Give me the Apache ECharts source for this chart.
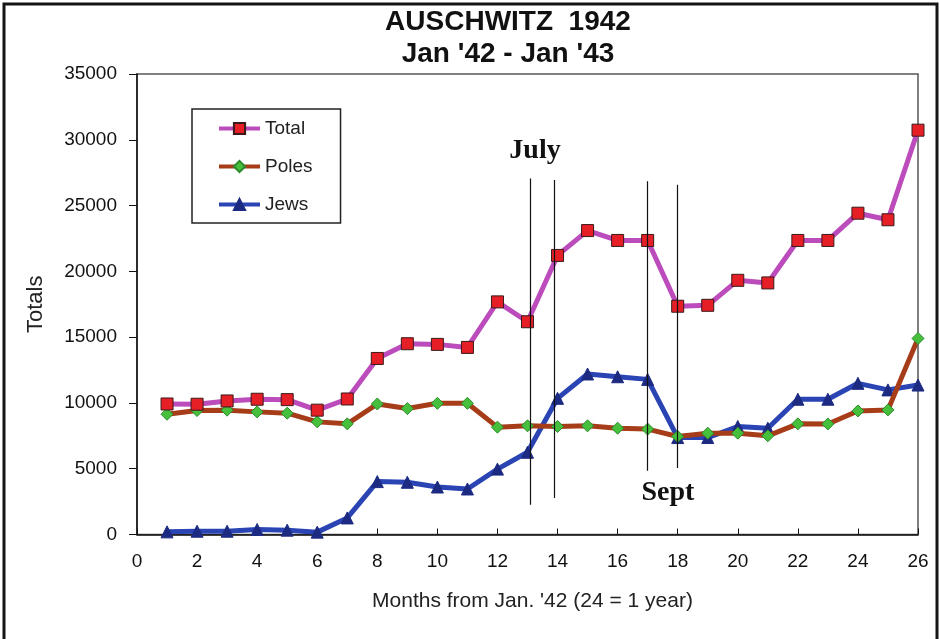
<!DOCTYPE html>
<html>
<head>
<meta charset="utf-8">
<title>Auschwitz 1942</title>
<script src="https://cdn.jsdelivr.net/npm/echarts@6/dist/echarts.min.js"></script>
<style>
  html, body { margin: 0; padding: 0; background: #fff; }
  #main { width: 940px; height: 639px; }
</style>
</head>
<body>
<div id="main"></div>
<script>
// months from Jan '42
var months = [1, 2, 3, 4, 5, 6, 7, 8, 9, 10, 11, 12, 13, 14, 15, 16, 17, 18, 19, 20, 21, 22, 23, 24, 25, 26];
var total = [9920, 9900, 10150, 10280, 10250, 9450, 10300, 13380, 14500, 14450, 14220, 17680, 16170,
  21210, 23100, 22350, 22350, 17350, 17420, 19320, 19120, 22350, 22350, 24420, 23920, 30730];
var poles = [9140, 9420, 9450, 9320, 9220, 8560, 8410, 9920, 9570, 9970, 9970, 8160, 8260,
  8210, 8260, 8080, 8010, 7450, 7700, 7700, 7500, 8410, 8400, 9390, 9470, 14900];
var jews = [200, 250, 250, 380, 330, 180, 1260, 4020, 3970, 3610, 3460, 4970, 6250,
  10350, 12200, 11990, 11790, 7370, 7370, 8210, 8080, 10280, 10280, 11490, 10990, 11360];

// the thin marker lines around July and Sept
var markX = [13.1, 13.9, 17, 18];
var markLow = [2270, 2780, 4850, 5050];
var markHigh = [27050, 26950, 26840, 26590];

function pairs(ys) {
  return months.map(function (m, i) { return [m, ys[i]]; });
}

var markLines = markX.map(function (x, i) {
  return [{ coord: [x, markLow[i]] }, { coord: [x, markHigh[i]] }];
});

var myChart = echarts.init(document.getElementById('main'));
var font = '"Liberation Sans", Arial, sans-serif';

var option = {
  backgroundColor: '#fff',
  animation: false,
  title: {
    text: "AUSCHWITZ  1942\nJan '42 - Jan '43",
    left: 503,
    top: 1,
    textAlign: 'center',
    textStyle: {
      fontFamily: font,
      fontSize: 28,
      fontWeight: 'bold',
      color: '#111',
      lineHeight: 32
    }
  },
  legend: {
    orient: 'vertical',
    left: 192,
    top: 109,
    data: ['Total', 'Poles', 'Jews'],
    backgroundColor: '#fff',
    borderColor: '#222',
    borderWidth: 1.5,
    borderRadius: 0,
    padding: [9, 28, 8, 25],
    itemWidth: 41,
    itemHeight: 14,
    itemGap: 17,
    lineStyle: { width: 4 },
    textStyle: { fontFamily: font, fontSize: 19, color: '#222', lineHeight: 21 }
  },
  grid: {
    left: 137,
    right: 22,
    top: 74,
    bottom: 104.5,
    show: true,
    borderColor: '#555',
    borderWidth: 1.5
  },
  xAxis: {
    type: 'value',
    min: 0,
    max: 26,
    interval: 2,
    name: "Months from Jan. '42 (24 = 1 year)",
    nameLocation: 'middle',
    nameGap: 56,
    nameTextStyle: { fontFamily: font, fontSize: 21, color: '#222', padding: [0, 0, 0, 10] },
    axisLine: { lineStyle: { color: '#111', width: 1.5 } },
    axisTick: { inside: true, length: 6, lineStyle: { color: '#111' } },
    axisLabel: { fontFamily: font, fontSize: 19, color: '#111', margin: 18 },
    splitLine: { show: false }
  },
  yAxis: {
    type: 'value',
    min: 0,
    max: 35000,
    interval: 5000,
    name: 'Totals',
    nameLocation: 'middle',
    nameGap: 90,
    nameTextStyle: { fontFamily: font, fontSize: 22, color: '#222' },
    axisLine: { show: true, lineStyle: { color: '#111', width: 1.5 } },
    axisTick: { show: true, length: 8, lineStyle: { color: '#111' } },
    axisLabel: {
      fontFamily: font, fontSize: 19, color: '#111', margin: 20,
      formatter: function (v) { return String(v); }
    },
    splitLine: { show: false }
  },
  series: [
    {
      name: 'Jews',
      type: 'line',
      data: pairs(jews),
      z: 2,
      symbol: 'triangle',
      symbolSize: 12,
      lineStyle: { color: '#2a44b4', width: 5 },
      itemStyle: { color: '#1c2a82', borderColor: '#1c2a82', borderWidth: 1 }
    },
    {
      name: 'Poles',
      type: 'line',
      data: pairs(poles),
      z: 3,
      symbol: 'diamond',
      symbolSize: 12,
      lineStyle: { color: '#a63c18', width: 5 },
      itemStyle: { color: '#46bf3c', borderColor: '#2c8a2c', borderWidth: 1 }
    },
    {
      name: 'Total',
      type: 'line',
      data: pairs(total),
      z: 4,
      symbol: 'rect',
      symbolSize: 12,
      lineStyle: { color: '#bc4cbc', width: 5 },
      itemStyle: { color: '#e61e26', borderColor: '#3a1a1a', borderWidth: 1 },
      markLine: {
        silent: true,
        symbol: 'none',
        label: { show: false },
        lineStyle: { color: '#111', width: 1.2, type: 'solid' },
        data: markLines
      }
    }
  ],
  graphic: [
    {
      type: 'rect',
      shape: { x: 4, y: 4, width: 933, height: 645 },
      style: { fill: 'none', stroke: '#151515', lineWidth: 3 },
      silent: true
    },
    {
      type: 'text',
      x: 535, y: 151,
      style: {
        text: 'July',
        font: 'bold 28px "Liberation Serif", "Times New Roman", serif',
        fill: '#111',
        textAlign: 'center',
        textVerticalAlign: 'middle'
      }
    },
    {
      type: 'text',
      x: 668, y: 493,
      style: {
        text: 'Sept',
        font: 'bold 28px "Liberation Serif", "Times New Roman", serif',
        fill: '#111',
        textAlign: 'center',
        textVerticalAlign: 'middle'
      }
    }
  ]
};

myChart.setOption(option);
</script>
</body>
</html>
